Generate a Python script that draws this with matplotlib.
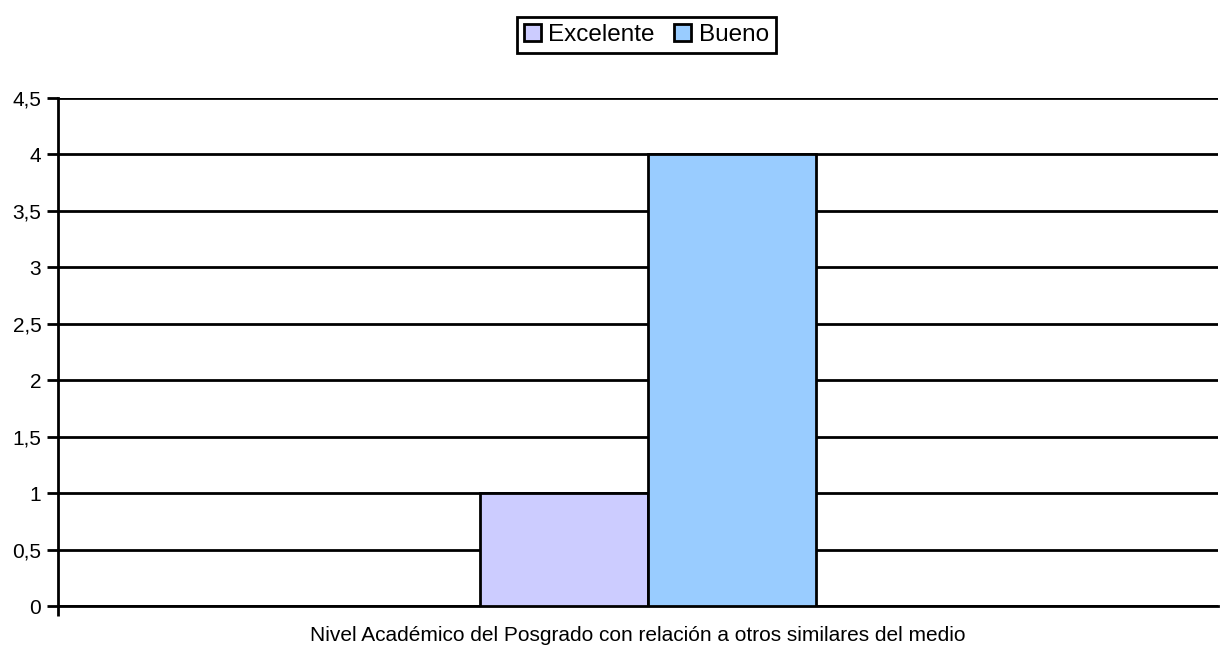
import matplotlib
matplotlib.use('Agg')
import matplotlib.pyplot as plt
import numpy as np

# data
series_names = ['Excelente', 'Bueno']
series_values = [1, 4]
series_colors = ['#CCCCFF', '#99CCFF']
xlabel_text = 'Nivel Académico del Posgrado con relación a otros similares del medio'
yticks = [0, 0.5, 1, 1.5, 2, 2.5, 3, 3.5, 4, 4.5]
ytick_labels = ['0', '0,5', '1', '1,5', '2', '2,5', '3', '3,5', '4', '4,5']

plt.rcParams['font.family'] = ['Liberation Sans', 'DejaVu Sans']

fig = plt.figure(figsize=(12.31, 6.52), dpi=100)
ax = fig.add_axes([58 / 1231, 46 / 652, 1160 / 1231, 508 / 652])

bar_w = 0.145
offsets = np.array([-0.5, 0.5]) * bar_w
handles = []
for name, val, col, off in zip(series_names, series_values, series_colors, offsets):
    h = ax.bar(off, val, width=bar_w, color=col, edgecolor='black', linewidth=2,
               zorder=3, label=name)
    handles.append(h)

ax.set_xlim(-0.5086, 0.4914)
ax.set_ylim(0, 4.5)
ax.set_yticks(yticks)
ax.set_yticklabels(ytick_labels, fontsize=15)
ax.yaxis.grid(True, color='black', linewidth=2, zorder=0)
ax.set_xticks([-0.5086])
ax.set_xticklabels([''])
ax.tick_params(axis='y', length=8, width=2, pad=4)
ax.tick_params(axis='x', length=7, width=2)

for s in ['top', 'right']:
    ax.spines[s].set_visible(False)
for s in ['left', 'bottom']:
    ax.spines[s].set_linewidth(2)

ax.set_xlabel(xlabel_text, fontsize=15, labelpad=4)

leg = fig.legend(handles=handles, loc='center', bbox_to_anchor=(646.5 / 1231, 1 - 35 / 652),
                 ncol=2, fontsize=17.5, frameon=True, fancybox=False, edgecolor='black',
                 framealpha=1, handlelength=0.7, handleheight=0.7, handletextpad=0.3,
                 columnspacing=0.8, borderpad=0.3, borderaxespad=0)
leg.get_frame().set_linewidth(2)
for p in leg.get_patches():
    p.set_linewidth(2)

fig.savefig('out.png', dpi=100)
